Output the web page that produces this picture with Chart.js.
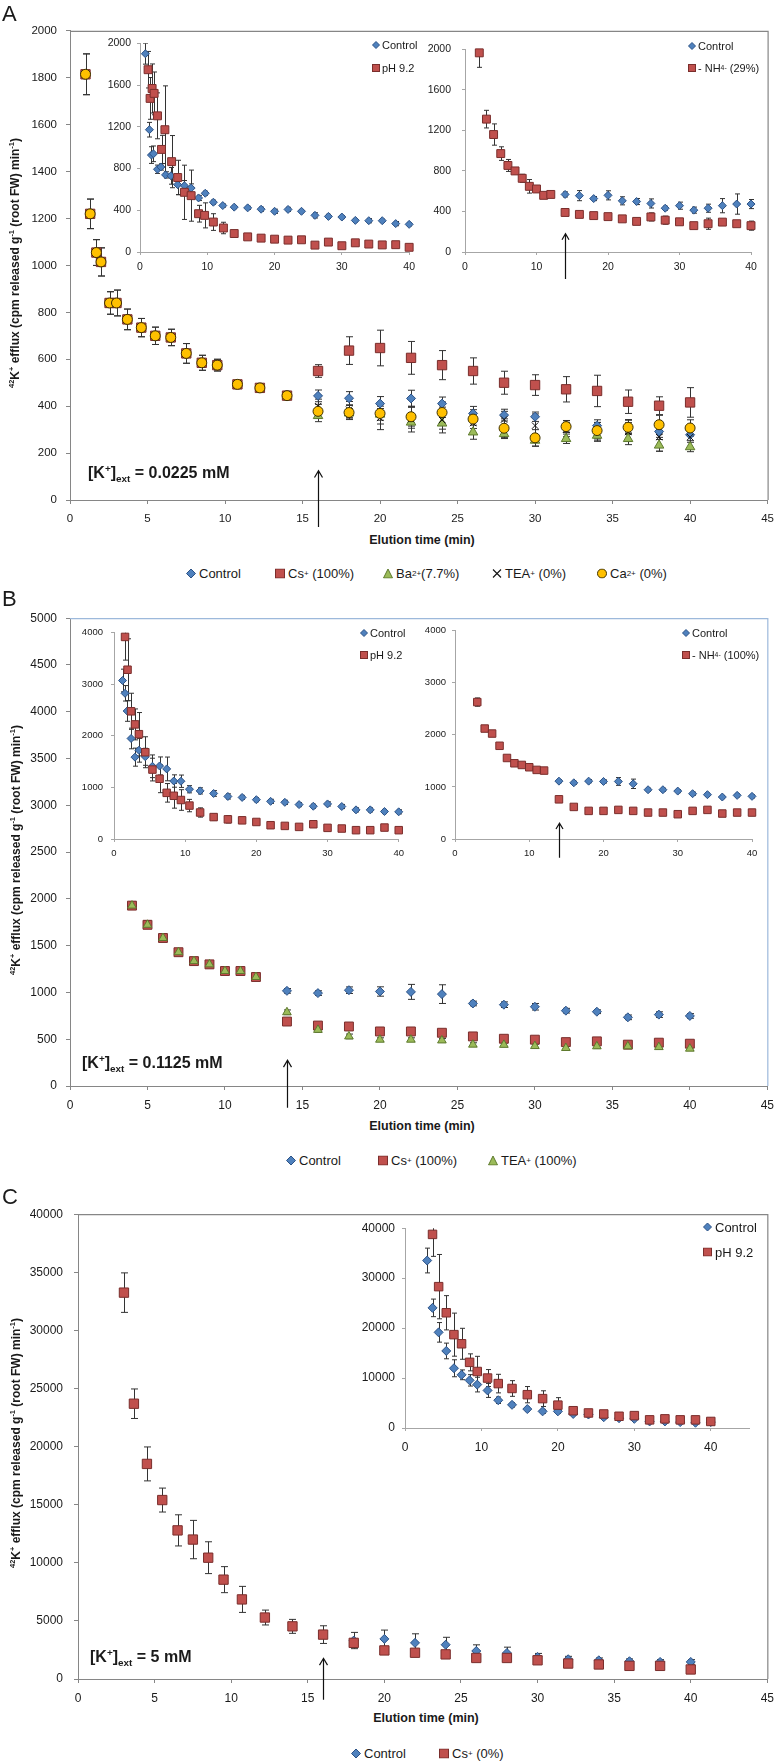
<!DOCTYPE html>
<html lang="en">
<head>
<meta charset="UTF-8">
<title>42K+ efflux time courses</title>
<script src="https://cdn.jsdelivr.net/npm/chart.js"></script>
<style>
  body { margin: 0; background: #fff; }
  #page { position: relative; width: 782px; height: 1762px; overflow: hidden;
          font-family: "Liberation Sans", Arial, sans-serif; color: #1a1a1a; }
  #page canvas { position: absolute; }
  .txt { position: absolute; white-space: nowrap; }
  .letter { font-size: 22px; line-height: 1; }
  .xtitle { font-weight: bold; font-size: 12.5px; transform: translate(-50%, -50%); }
  .ytitle { font-weight: bold; font-size: 12px; transform: translate(-50%, -50%) rotate(-90deg); }
  .note { font-weight: bold; font-size: 16px; transform: translateY(-50%); }
  .leg { display: flex; align-items: center; transform: translateY(-50%); font-size: 13px; }
  .leg.s { font-size: 11px; }
  .leg.xs { font-size: 11px; }
  .leg svg { margin-right: 3px; flex: none; }
  .leg.s svg, .leg.xs svg { margin-right: 2px; }
  sup, sub { font-size: 0.62em; line-height: 0; }
</style>
</head>
<body>
<div id="page">
  <canvas id="mainA"></canvas>
  <canvas id="insetA1"></canvas>
  <canvas id="insetA2"></canvas>
  <canvas id="mainB"></canvas>
  <canvas id="insetB1"></canvas>
  <canvas id="insetB2"></canvas>
  <canvas id="mainC"></canvas>
  <canvas id="insetC"></canvas>

  <!-- panel letters -->
  <div class="txt letter" style="left:2px;top:3px">A</div>
  <div class="txt letter" style="left:2px;top:588px">B</div>
  <div class="txt letter" style="left:2px;top:1186px">C</div>

  <!-- y titles -->
  <div class="txt ytitle" style="left:15px;top:263px"><sup>42</sup>K<sup>+</sup> efflux (cpm released g<sup>-1</sup> (root FW) min<sup>-1</sup>)</div>
  <div class="txt ytitle" style="left:16px;top:850px"><sup>42</sup>K<sup>+</sup> efflux (cpm released g<sup>-1</sup> (root FW) min<sup>-1</sup>)</div>
  <div class="txt ytitle" style="left:16px;top:1443px"><sup>42</sup>K<sup>+</sup> efflux (cpm released g<sup>-1</sup> (root FW) min<sup>-1</sup>)</div>

  <!-- x titles -->
  <div class="txt xtitle" style="left:422px;top:540px">Elution time (min)</div>
  <div class="txt xtitle" style="left:422px;top:1126px">Elution time (min)</div>
  <div class="txt xtitle" style="left:426px;top:1718px">Elution time (min)</div>

  <!-- concentration notes -->
  <div class="txt note" style="left:88px;top:473px">[K<sup>+</sup>]<sub>ext</sub> = 0.0225 mM</div>
  <div class="txt note" style="left:82px;top:1063px">[K<sup>+</sup>]<sub>ext</sub> = 0.1125 mM</div>
  <div class="txt note" style="left:90px;top:1657px">[K<sup>+</sup>]<sub>ext</sub> = 5 mM</div>

  <!-- main legends -->
  <div class="txt leg" style="left:186px;top:573px"><i data-mk="diamond"></i>Control</div>
  <div class="txt leg" style="left:275px;top:573px"><i data-mk="square"></i>Cs<sup>+</sup>&nbsp;(100%)</div>
  <div class="txt leg" style="left:383px;top:573px"><i data-mk="triangle"></i>Ba<sup>2+</sup>(7.7%)</div>
  <div class="txt leg" style="left:492px;top:573px"><i data-mk="cross"></i>TEA<sup>+</sup>&nbsp;(0%)</div>
  <div class="txt leg" style="left:597px;top:573px"><i data-mk="circle"></i>Ca<sup>2+</sup>&nbsp;(0%)</div>

  <div class="txt leg" style="left:286px;top:1160px"><i data-mk="diamond"></i>Control</div>
  <div class="txt leg" style="left:378px;top:1160px"><i data-mk="square"></i>Cs<sup>+</sup>&nbsp;(100%)</div>
  <div class="txt leg" style="left:488px;top:1160px"><i data-mk="triangle"></i>TEA<sup>+</sup>&nbsp;(100%)</div>

  <div class="txt leg" style="left:351px;top:1753px"><i data-mk="diamond"></i>Control</div>
  <div class="txt leg" style="left:439px;top:1753px"><i data-mk="square"></i>Cs<sup>+</sup>&nbsp;(0%)</div>

  <!-- inset legends -->
  <div class="txt leg s" style="left:372px;top:45px"><i data-mk="diamond" data-sz="8"></i>Control</div>
  <div class="txt leg s" style="left:372px;top:68px"><i data-mk="square" data-sz="8"></i>pH 9.2</div>
  <div class="txt leg s" style="left:688px;top:46px"><i data-mk="diamond" data-sz="8"></i>Control</div>
  <div class="txt leg s" style="left:688px;top:68px"><i data-mk="square" data-sz="8"></i>- NH<sub>4</sub><sup>-</sup>&nbsp;(29%)</div>

  <div class="txt leg xs" style="left:360px;top:633px"><i data-mk="diamond" data-sz="8"></i>Control</div>
  <div class="txt leg xs" style="left:360px;top:655px"><i data-mk="square" data-sz="8"></i>pH 9.2</div>
  <div class="txt leg xs" style="left:682px;top:633px"><i data-mk="diamond" data-sz="8"></i>Control</div>
  <div class="txt leg xs" style="left:682px;top:655px"><i data-mk="square" data-sz="8"></i>- NH<sub>4</sub><sup>-</sup>&nbsp;(100%)</div>

  <div class="txt leg" style="left:703px;top:1227px"><i data-mk="diamond" data-sz="9"></i>Control</div>
  <div class="txt leg" style="left:703px;top:1252px"><i data-mk="square" data-sz="9"></i>pH 9.2</div>
</div>

<script>
// ---------- Panel A: [K+]ext = 0.0225 mM ----------
const aPreTime = [1.0, 1.3, 1.7, 2.0, 2.55, 3.0, 3.7, 4.6, 5.5, 6.5, 7.5, 8.5, 9.5, 10.8, 12.25, 14];
const aPre     = [1815, 1220, 1055, 1015, 840, 840, 770, 735, 700, 693, 625, 585, 575, 493, 478, 445];
const aPreErr  = [87, 63, 55, 60, 48, 55, 44, 39, 37, 35, 42, 32, 25, 12, 15, 12];
const aTime       = [16, 18, 20, 22, 24, 26, 28, 30, 32, 34, 36, 38, 40];
const aControl    = [444, 434, 411, 433, 411, 369, 362, 355, 314, 317, 313, 292, 278];
const aControlErr = [25, 28, 30, 35, 28, 30, 25, 20, 25, 25, 30, 25, 25];
const aCs         = [550, 637, 648, 606, 575, 550, 500, 490, 472, 465, 419, 402, 416];
const aCsErr      = [27, 59, 76, 70, 62, 56, 49, 44, 54, 67, 50, 38, 63];
const aBa         = [359, 370, 365, 331, 327, 289, 282, 254, 261, 275, 261, 233, 226];
const aBaErr      = [25, 20, 25, 25, 25, 30, 20, 25, 20, 20, 25, 25, 20];
const aTea        = [400, 385, 350, 345, 341, 328, 343, 317, 300, 290, 290, 268, 268];
const aTeaErr     = [30, 35, 50, 55, 55, 45, 35, 50, 30, 40, 40, 60, 45];
const aCa         = [378, 373, 369, 355, 373, 345, 306, 265, 313, 296, 310, 321, 307];
const aCaErr      = [30, 30, 45, 40, 45, 40, 40, 35, 25, 35, 30, 40, 35];

// inset A1: control vs pH 9.2
const a1CtlTime = [0.8, 1.4, 1.7, 2.0, 2.6, 3.1, 3.8, 4.6, 5.6, 6.6, 7.6, 8.7, 9.7, 10.9, 12.3, 14, 16, 18, 20, 22, 24, 26, 28, 30, 32, 34, 36, 38, 40];
const a1Ctl     = [1900, 1172, 929, 941, 793, 815, 739, 730, 645, 635, 613, 518, 563, 477, 445, 430, 423, 410, 390, 408, 390, 351, 341, 335, 303, 300, 300, 272, 265];
const a1CtlErr  = [100, 70, 80, 75, 40, 30, 30, 80, 95, 50, 40, 25, 20, 20, 15, 15, 15, 20, 20, 20, 15, 25, 20, 15, 15, 20, 15, 20, 15];
const a1PhTime  = [1.2, 1.5, 1.8, 2.1, 2.6, 3.2, 3.7, 4.7, 5.6, 6.6, 7.6, 8.7, 9.6, 10.9, 12.4, 14, 16, 18, 20, 22, 24, 26, 28, 30, 32, 34, 36, 38, 40];
const a1Ph      = [1747, 1472, 1567, 1520, 1305, 983, 1172, 866, 714, 572, 540, 367, 351, 287, 230, 177, 145, 133, 123, 114, 117, 66, 95, 60, 88, 76, 68, 70, 45];
const a1PhErr   = [175, 200, 235, 205, 220, 135, 420, 250, 165, 260, 245, 80, 120, 80, 55, 20, 20, 15, 15, 15, 20, 15, 15, 15, 15, 15, 15, 15, 15];

// inset A2: control vs -NH4 (29%)
const a2NhTime = [2, 3, 4, 5, 6, 7, 8, 9, 10, 11, 12, 14, 16, 18, 20, 22, 24, 26, 28, 30, 32, 34, 36, 38, 40];
const a2Nh     = [1965, 1311, 1159, 971, 854, 800, 727, 648, 622, 559, 568, 390, 371, 359, 349, 327, 302, 346, 314, 298, 260, 279, 295, 279, 260];
const a2NhErr  = [143, 87, 105, 67, 59, 30, 40, 67, 30, 20, 15, 15, 20, 30, 20, 25, 15, 40, 40, 25, 25, 55, 25, 20, 45];
const a2CtlTime = [14, 16, 18, 20, 22, 24, 26, 28, 30, 32, 34, 36, 38, 40];
const a2Ctl     = [568, 556, 527, 559, 505, 498, 479, 432, 457, 413, 432, 457, 473, 473];
const a2CtlErr  = [25, 50, 20, 45, 40, 30, 45, 20, 35, 30, 40, 70, 100, 45];

// ---------- Panel B: [K+]ext = 0.1125 mM ----------
const bPreTime = [4, 5, 6, 7, 8, 9, 10, 11, 12];
const bPre     = [1928, 1723, 1582, 1430, 1335, 1300, 1229, 1229, 1165];
const bPreErr  = [40, 40, 30, 30, 30, 30, 25, 25, 30];
const bTime       = [14, 16, 18, 20, 22, 24, 26, 28, 30, 32, 34, 36, 38, 40];
const bControl    = [1017, 993, 1024, 1010, 1006, 982, 882, 869, 847, 805, 794, 734, 763, 749];
const bControlErr = [25, 25, 35, 50, 80, 100, 25, 30, 35, 25, 20, 25, 30, 25];
const bCs         = [689, 646, 636, 583, 583, 569, 530, 505, 495, 469, 477, 442, 463, 452];
const bCsErr      = [30, 30, 25, 25, 25, 25, 25, 25, 25, 20, 20, 20, 20, 20];
const bTea        = [788, 600, 530, 495, 495, 487, 442, 440, 427, 406, 424, 424, 416, 399];
const bTeaErr     = [25, 25, 25, 20, 20, 20, 20, 20, 20, 20, 20, 20, 20, 20];

// inset B1: control vs pH 9.2
const b1CtlTime = [1.2, 1.55, 1.85, 2.4, 2.95, 3.5, 4.4, 5.4, 6.4, 7.4, 8.4, 9.4, 10.6, 12.1, 14, 16, 18, 20, 22, 24, 26, 28, 30, 32, 34, 36, 38, 40];
const b1Ctl     = [3073, 2825, 2482, 1949, 1587, 1720, 1594, 1410, 1416, 1359, 1124, 1120, 965, 933, 883, 825, 806, 762, 730, 711, 667, 635, 680, 630, 565, 565, 533, 527];
const b1CtlErr  = [220, 150, 200, 200, 175, 230, 165, 220, 175, 230, 120, 120, 70, 60, 55, 50, 40, 40, 40, 40, 40, 40, 40, 40, 40, 40, 40, 40];
const b1PhTime  = [1.55, 1.9, 2.4, 2.95, 3.5, 4.4, 5.4, 6.4, 7.4, 8.4, 9.4, 10.6, 12.1, 14, 16, 18, 20, 22, 24, 26, 28, 30, 32, 34, 36, 38, 40];
const b1Ph      = [3918, 3282, 2476, 2222, 2032, 1682, 1346, 1168, 895, 838, 756, 648, 514, 425, 381, 362, 330, 267, 254, 235, 286, 216, 203, 171, 171, 222, 171];
const b1PhErr   = [450, 600, 350, 300, 420, 300, 220, 270, 180, 240, 200, 120, 90, 60, 70, 60, 40, 40, 40, 40, 40, 40, 40, 40, 40, 40, 40];

// inset B2: control vs -NH4 (100%)
const b2NhTime = [3, 4, 5, 6, 7, 8, 9, 10, 11, 12, 14, 16, 18, 20, 22, 24, 26, 28, 30, 32, 34, 36, 38, 40];
const b2Nh     = [2629, 2121, 2025, 1790, 1556, 1454, 1422, 1378, 1327, 1314, 762, 616, 540, 540, 559, 540, 508, 508, 476, 540, 559, 489, 508, 508];
const b2NhErr  = [80, 40, 30, 30, 30, 30, 30, 25, 25, 25, 30, 30, 25, 25, 25, 25, 25, 25, 25, 25, 25, 25, 25, 25];
const b2CtlTime = [14, 16, 18, 20, 22, 24, 26, 28, 30, 32, 34, 36, 38, 40];
const b2Ctl     = [1111, 1079, 1111, 1105, 1105, 1060, 946, 946, 920, 870, 851, 806, 838, 819];
const b2CtlErr  = [30, 30, 30, 30, 75, 90, 30, 30, 30, 30, 30, 30, 30, 30];

// ---------- Panel C: [K+]ext = 5 mM ----------
const cPreTime = [3, 3.65, 4.5, 5.5, 6.5, 7.5, 8.5, 9.5, 10.7, 12.2, 14, 16];
const cPre     = [33250, 23690, 18510, 15400, 12790, 12000, 10440, 8550, 6850, 5290, 4530, 3820];
const cPreErr  = [1700, 1270, 1460, 1030, 1340, 1650, 1370, 1120, 1120, 640, 600, 760];
const cTime       = [18, 20, 22, 24, 26, 28, 30, 32, 34, 36, 38, 40];
const cControl    = [3310, 3450, 3110, 2950, 2410, 2240, 1900, 1700, 1610, 1530, 1470, 1470];
const cControlErr = [700, 760, 780, 640, 530, 500, 300, 250, 200, 200, 200, 200];
const cCs         = [3110, 2460, 2260, 2120, 1810, 1810, 1610, 1330, 1250, 1130, 1130, 820];
const cCsErr      = [300, 300, 250, 300, 300, 300, 250, 200, 250, 250, 250, 200];

// inset C: control vs pH 9.2
const c1CtlTime = [2.9, 3.6, 4.4, 5.4, 6.4, 7.4, 8.45, 9.45, 10.8, 12.2, 14, 16, 18, 20, 22, 24, 26, 28, 30, 32, 34, 36, 38, 40];
const c1Ctl     = [33530, 24050, 19150, 15425, 11960, 10650, 9540, 8690, 7520, 5560, 4640, 3790, 3330, 3330, 2810, 2700, 2160, 1960, 1830, 1310, 1310, 1180, 1050, 1180];
const c1CtlErr  = [2480, 1760, 1960, 1570, 1700, 980, 1140, 1470, 1400, 650, 450, 400, 400, 400, 300, 300, 300, 300, 300, 250, 250, 250, 250, 250];
const c1PhTime  = [3.6, 4.4, 5.4, 6.4, 7.4, 8.45, 9.45, 10.8, 12.2, 14, 16, 18, 20, 22, 24, 26, 28, 30, 32, 34, 36, 38, 40];
const c1Ph      = [38760, 28300, 23070, 18690, 16860, 13140, 11310, 10000, 8890, 7910, 6670, 5880, 4575, 3460, 3010, 2810, 2350, 2480, 1630, 1830, 1630, 1630, 1310];
const c1PhErr   = [4400, 6440, 3430, 4310, 3100, 1700, 3040, 1700, 1860, 1570, 1630, 1570, 1500, 650, 400, 350, 300, 300, 250, 250, 250, 250, 250];

// ---------- helpers ----------
const FONT = '"Liberation Sans", Arial, sans-serif';
Chart.defaults.font.family = FONT;

const STYLE = {
  diamond:  { pointStyle: 'rectRot', fill: '#4F81BD', line: '#2C5286' },
  square:   { pointStyle: 'rect', fill: '#C0504D', line: '#7A2E2C' },
  triangle: { pointStyle: 'triangle', fill: '#9BBB59', line: '#5E7A2E' },
  cross:    { pointStyle: 'crossRot', fill: '#000', line: '#111' },
  circle:   { pointStyle: 'circle', fill: '#FFC000', line: '#3D3000' }
};

function pts(times, values) {
  return times.map((t, i) => ({ x: t, y: values[i] }));
}

function series(label, times, values, errors, kind, radius, order) {
  const s = STYLE[kind];
  return {
    label, data: pts(times, values), errors, order, clip: false,
    showLine: false, pointStyle: s.pointStyle, pointRadius: radius, pointHoverRadius: radius,
    pointBackgroundColor: s.fill, pointBorderColor: s.line, pointBorderWidth: 1
  };
}

function axis(min, max, step, size, pad, color, tickLen) {
  return {
    type: 'linear', min, max,
    ticks: { stepSize: step, autoSkip: false, maxRotation: 0, padding: pad, color: '#1a1a1a',
             font: { size: size, family: FONT }, callback: v => String(v) },
    grid: { drawOnChartArea: false, drawTicks: true, tickLength: tickLen, color },
    border: { color, width: 1 }
  };
}

// error bars drawn through the chart's own scales
const errorBars = {
  id: 'errorBars',
  beforeDatasetsDraw(chart, args, o) {
    const { ctx, chartArea: a, scales: { x, y } } = chart;
    ctx.save();
    ctx.beginPath();
    ctx.rect(a.left - 6, a.top, a.right - a.left + 12, a.bottom - a.top + 6);
    ctx.clip();
    ctx.strokeStyle = '#333';
    ctx.lineWidth = 1;
    chart.data.datasets.forEach(ds => {
      if (!ds.errors) return;
      ds.data.forEach((p, i) => {
        const e = ds.errors[i];
        if (!e) return;
        const px = Math.round(x.getPixelForValue(p.x)) + 0.5;
        const hi = y.getPixelForValue(p.y + e), lo = y.getPixelForValue(p.y - e);
        ctx.beginPath();
        ctx.moveTo(px, hi); ctx.lineTo(px, lo);
        ctx.moveTo(px - o.cap, hi); ctx.lineTo(px + o.cap, hi);
        ctx.moveTo(px - o.cap, lo); ctx.lineTo(px + o.cap, lo);
        ctx.stroke();
      });
    });
    ctx.restore();
  }
};

// top and right border of the plot box
const frame = {
  id: 'frame',
  beforeDatasetsDraw(chart, args, o) {
    if (!o.color) return;
    const { ctx, chartArea: a } = chart;
    ctx.save();
    ctx.strokeStyle = o.color;
    ctx.lineWidth = 1.2;
    ctx.beginPath();
    ctx.moveTo(a.left, a.top + 0.5); ctx.lineTo(a.right + 0.5, a.top + 0.5); ctx.lineTo(a.right + 0.5, a.bottom);
    ctx.stroke();
    ctx.restore();
  }
};

// upward arrow marking the treatment time
const arrow = {
  id: 'arrow',
  afterDatasetsDraw(chart, args, o) {
    if (o.x === undefined) return;
    const { ctx, scales: { x, y } } = chart;
    const px = Math.round(x.getPixelForValue(o.x)) + 0.5;
    const tip = y.getPixelForValue(o.tip), tail = y.getPixelForValue(o.tail);
    ctx.save();
    ctx.strokeStyle = '#111';
    ctx.lineWidth = 1.2;
    ctx.beginPath();
    ctx.moveTo(px, tail); ctx.lineTo(px, tip);
    ctx.moveTo(px - o.head, tip + o.head * 1.7); ctx.lineTo(px, tip); ctx.lineTo(px + o.head, tip + o.head * 1.7);
    ctx.stroke();
    ctx.restore();
  }
};

// area = plot rectangle on the page, m = room around it for the axes
function plot(id, area, m, xAxis, yAxis, datasets, extra) {
  const canvas = document.getElementById(id);
  const w = area.r - area.l + m.l + m.r, h = area.b - area.t + m.t + m.b;
  canvas.width = w; canvas.height = h;
  canvas.style.width = w + 'px'; canvas.style.height = h + 'px';
  canvas.style.left = (area.l - m.l) + 'px'; canvas.style.top = (area.t - m.t) + 'px';
  xAxis.position = 'bottom';
  xAxis.afterFit = s => { s.height = m.b; };
  yAxis.position = 'left';
  yAxis.afterFit = s => { s.width = m.l; };
  return new Chart(canvas, {
    type: 'scatter',
    data: { datasets },
    options: {
      responsive: false, animation: false, devicePixelRatio: 1,
      layout: { padding: { left: 0, top: m.t, right: m.r, bottom: 0 } },
      plugins: {
        legend: { display: false }, tooltip: { enabled: false },
        errorBars: { cap: extra.cap }, frame: { color: extra.frame }, arrow: extra.arrow || {}
      },
      scales: { x: xAxis, y: yAxis }
    },
    plugins: [errorBars, frame, arrow]
  });
}

const MAIN_AX = '#868686', INSET_AX = '#A6A6A6';

// ---------- Panel A ----------
plot('mainA', { l: 70, t: 27, r: 775, b: 500 }, { l: 70, t: 12, r: 7, b: 32 },
  axis(0, 45, 5, 11.5, 8, MAIN_AX, 4), axis(0, 2000, 200, 11.5, 9, MAIN_AX, 4),
  [
    series('Control', aTime, aControl, aControlErr, 'diamond', 4.5, 4),
    series('Cs+ (100%)', aPreTime.concat(aTime), aPre.concat(aCs), aPreErr.concat(aCsErr), 'square', 6.6, 3),
    series('Ba2+ (7.7%)', aTime, aBa, aBaErr, 'triangle', 5.5, 2),
    series('TEA+ (0%)', aTime, aTea, aTeaErr, 'cross', 4.5, 1),
    series('Ca2+ (0%)', aPreTime.concat(aTime), aPre.concat(aCa), aPreErr.concat(aCaErr), 'circle', 5, 0)
  ],
  { cap: 3.5, frame: MAIN_AX, arrow: { x: 16, tip: 125, tail: -115, head: 4 } });

plot('insetA1', { l: 140, t: 41, r: 411, b: 252 }, { l: 40, t: 10, r: 10, b: 25 },
  axis(0, 40, 10, 10.5, 6, INSET_AX, 3), axis(0, 2000, 400, 10.5, 6, INSET_AX, 3),
  [
    series('Control', a1CtlTime, a1Ctl, a1CtlErr, 'diamond', 4, 1),
    series('pH 9.2', a1PhTime, a1Ph, a1PhErr, 'square', 5.6, 0)
  ],
  { cap: 2.5 });

plot('insetA2', { l: 465, t: 42, r: 751, b: 252 }, { l: 45, t: 10, r: 12, b: 32 },
  axis(0, 40, 10, 10.5, 6, INSET_AX, 3), axis(0, 2000, 400, 10.5, 11, INSET_AX, 3),
  [
    series('Control', a2CtlTime, a2Ctl, a2CtlErr, 'diamond', 4, 1),
    series('- NH4 (29%)', a2NhTime, a2Nh, a2NhErr, 'square', 5.6, 0)
  ],
  { cap: 2.5, arrow: { x: 14, tip: 180, tail: -267, head: 3.5 } });

// ---------- Panel B ----------
plot('mainB', { l: 70, t: 614, r: 774, b: 1086 }, { l: 70, t: 12, r: 8, b: 32 },
  axis(0, 45, 5, 12, 8, MAIN_AX, 4), axis(0, 5000, 500, 12, 9, MAIN_AX, 4),
  [
    series('Control', bTime, bControl, bControlErr, 'diamond', 4.5, 2),
    series('Cs+ (100%)', bPreTime.concat(bTime), bPre.concat(bCs), bPreErr.concat(bCsErr), 'square', 6.3, 1),
    series('TEA+ (100%)', bPreTime.concat(bTime), bPre.concat(bTea), bPreErr.concat(bTeaErr), 'triangle', 5, 0)
  ],
  { cap: 3.5, frame: '#9DB9DB', arrow: { x: 14, tip: 275, tail: -233, head: 4 } });

plot('insetB1', { l: 114, t: 629, r: 400, b: 839 }, { l: 40, t: 10, r: 10, b: 25 },
  axis(0, 40, 10, 9.5, 6, INSET_AX, 3), axis(0, 4000, 1000, 9.5, 8, INSET_AX, 3),
  [
    series('Control', b1CtlTime, b1Ctl, b1CtlErr, 'diamond', 4, 1),
    series('pH 9.2', b1PhTime, b1Ph, b1PhErr, 'square', 5.3, 0)
  ],
  { cap: 2.5 });

plot('insetB2', { l: 455, t: 629, r: 752, b: 839 }, { l: 40, t: 10, r: 12, b: 25 },
  axis(0, 40, 10, 9.5, 6, INSET_AX, 3), axis(0, 4000, 1000, 9.5, 6, INSET_AX, 3),
  [
    series('Control', b2CtlTime, b2Ctl, b2CtlErr, 'diamond', 4, 1),
    series('- NH4 (100%)', b2NhTime, b2Nh, b2NhErr, 'square', 5.3, 0)
  ],
  { cap: 2.5, arrow: { x: 14, tip: 305, tail: -362, head: 3.5 } });

// ---------- Panel C ----------
plot('mainC', { l: 78, t: 1208, r: 775, b: 1679 }, { l: 78, t: 12, r: 7, b: 32 },
  axis(0, 45, 5, 12, 8, MAIN_AX, 4), axis(0, 40000, 5000, 12, 11, MAIN_AX, 4),
  [
    series('Control', cTime, cControl, cControlErr, 'diamond', 4.5, 1),
    series('Cs+ (0%)', cPreTime.concat(cTime), cPre.concat(cCs), cPreErr.concat(cCsErr), 'square', 6.6, 0)
  ],
  { cap: 3.5, frame: MAIN_AX, arrow: { x: 16, tip: 1780, tail: -1780, head: 4 } });

const insetCx = axis(0, 45, 10, 12, 9, INSET_AX, 3);
insetCx.afterBuildTicks = s => { s.ticks = s.ticks.filter(t => t.value <= 40); };
plot('insetC', { l: 405, t: 1224, r: 749, b: 1428 }, { l: 55, t: 10, r: 12, b: 28 },
  insetCx, axis(0, 40000, 10000, 12, 7, INSET_AX, 3),
  [
    series('Control', c1CtlTime, c1Ctl, c1CtlErr, 'diamond', 4.5, 1),
    series('pH 9.2', c1PhTime, c1Ph, c1PhErr, 'square', 6, 0)
  ],
  { cap: 2.5 });

// ---------- legend markers ----------
function markerSvg(kind, sz) {
  const s = STYLE[kind], c = sz / 2, r = sz / 2 - 0.5;
  let shape;
  if (kind === 'diamond') shape = `<polygon points="${c},${c - r} ${c + r},${c} ${c},${c + r} ${c - r},${c}" fill="${s.fill}" stroke="${s.line}"/>`;
  else if (kind === 'square') shape = `<rect x="0.5" y="0.5" width="${sz - 1}" height="${sz - 1}" fill="${s.fill}" stroke="${s.line}"/>`;
  else if (kind === 'triangle') shape = `<polygon points="${c},0.5 ${sz - 0.5},${sz - 0.5} 0.5,${sz - 0.5}" fill="${s.fill}" stroke="${s.line}"/>`;
  else if (kind === 'cross') shape = `<path d="M1 1L${sz - 1} ${sz - 1}M${sz - 1} 1L1 ${sz - 1}" stroke="#111" stroke-width="1.1"/>`;
  else shape = `<circle cx="${c}" cy="${c}" r="${r}" fill="${s.fill}" stroke="${s.line}"/>`;
  return `<svg width="${sz}" height="${sz}" viewBox="0 0 ${sz} ${sz}">${shape}</svg>`;
}
document.querySelectorAll('i[data-mk]').forEach(el => {
  const sz = Number(el.dataset.sz || 10);
  el.outerHTML = markerSvg(el.dataset.mk, sz);
});
</script>
</body>
</html>
